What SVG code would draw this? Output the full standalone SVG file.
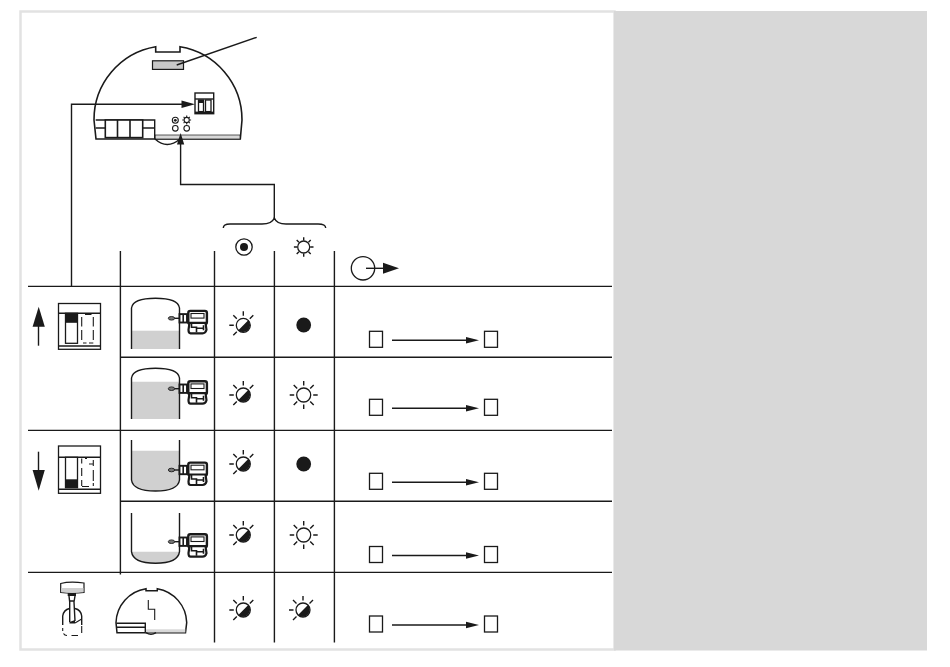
<svg xmlns="http://www.w3.org/2000/svg" width="950" height="667" viewBox="0 0 950 667">
<style>
.l{fill:none;stroke:#1a1a1a;stroke-width:1.4}
.t{fill:none;stroke:#1a1a1a;stroke-width:1.1}
.b{fill:#1a1a1a;stroke:none}
.w{fill:#fff;stroke:#1a1a1a;stroke-width:1.3}
.g{fill:#d0d0d0;stroke:none}
</style>
<defs>
<g id="sensor">
<ellipse cx="-8" cy="0" rx="3.2" ry="1.8" fill="#777" stroke="#1a1a1a" stroke-width="0.9"/>
<path class="l" d="M-5 0H0"/>
<rect x="0" y="-4.2" width="7.5" height="8.4" fill="#fff" stroke="#1a1a1a" stroke-width="1.9"/>
<path d="M3.7 -4V4" stroke="#1a1a1a" stroke-width="1.6"/>
<rect x="8.8" y="-7.4" width="18.6" height="13" rx="2" fill="#fff" stroke="#1a1a1a" stroke-width="2.4"/>
<rect x="11.5" y="-4.8" width="13" height="4.6" fill="#fff" stroke="#1a1a1a" stroke-width="1.1"/>
<path d="M10 4.5 H26 L27 11.5 Q26 15 23 15 H11 Q9 15 9 11.5 Z" fill="#fff" stroke="#1a1a1a" stroke-width="2.2"/>
<path d="M12 4V9H17V14M17 10H24M24 7V12" fill="none" stroke="#1a1a1a" stroke-width="1.6"/>
</g>
<g id="half">
<circle cx="0" cy="0" r="7" fill="#fff" stroke="#1a1a1a" stroke-width="1.3"/>
<path class="b" d="M5.2 -5.2A7.4 7.4 0 0 1 -5.2 5.2Z"/>
<path class="l" d="M0 -9.5V-14M-9.5 0H-14M-6.5 -6.5L-10 -10M6.5 -6.5L10 -10M-6.5 6.5L-10 10"/>
</g>
<g id="sun">
<circle cx="0" cy="0" r="7" class="w"/>
<path class="l" d="M0 -9.5V-14M0 9.5V14M-9.5 0H-14M9.5 0H14M-6.5 -6.5L-10 -10M6.5 -6.5L10 -10M-6.5 6.5L-10 10M6.5 6.5L10 10"/>
</g>
<g id="sun-small">
<circle cx="0" cy="0" r="6" class="w"/>
<path class="l" d="M0 -6.5V-9.8M0 6.5V9.8M-6.5 0H-9.8M6.5 0H9.8M-4.8 -4.8L-7 -7M4.8 -4.8L7 -7M-4.8 4.8L-7 7M4.8 4.8L7 7"/>
</g>
<g id="dot"><circle cx="0" cy="0" r="7.4" class="b"/></g>
<g id="flow">
<rect x="369.5" y="-9" width="13" height="16" class="w"/>
<rect x="484.5" y="-9" width="13" height="16" class="w"/>
<path class="l" d="M392 0H468"/>
<path class="b" d="M466 -3.2L479 0L466 3.2Z"/>
</g>
</defs>

<g id="page">
<rect x="20.5" y="11.5" width="594" height="638" fill="#fff" stroke="#e2e2e2" stroke-width="2.5"/>
<rect x="614" y="11" width="313" height="639.5" fill="#d8d8d8"/>
</g>

<g id="table-lines">
<path class="l" d="M28 286.4H612M120.4 357.3H612M28 430.4H612M120.4 501.3H612M28 572.4H612"/>
<path class="l" d="M120.4 251V574.5M214.5 251V642.5M274.4 251V642.5M334.4 251V642.5"/>
</g>

<g id="device">
<path d="M155.7 46.8V52H180V46.8A74 74 0 0 1 242 120L240.3 139H96L94 120A74 74 0 0 1 155.7 46.8Z" fill="#fff" stroke="#1a1a1a" stroke-width="1.6"/>
<rect x="155" y="135" width="85" height="4" fill="#d8d8d8" stroke="#1a1a1a" stroke-width="0.7"/>
<rect x="152.5" y="60.8" width="31" height="8.6" fill="#c8c8c8" stroke="#1a1a1a" stroke-width="1.2"/>
<path class="l" d="M95.7 120H154.7V139M95.7 128H105.3M142.7 128H154.7"/>
<rect x="105.3" y="120" width="37.4" height="17.6" fill="#fff" stroke="#1a1a1a" stroke-width="1.6"/>
<path d="M117.5 120V137.6M130 120V137.6" stroke="#1a1a1a" stroke-width="1.6" fill="none"/>
<path class="l" d="M155 139Q167 150 180 139"/>
<rect x="195" y="93" width="18.7" height="20.7" fill="#fff" stroke="#1a1a1a" stroke-width="1.4"/>
<path class="l" d="M195 99H213.7"/>
<rect x="198.5" y="100" width="5" height="11.6" class="w"/>
<rect x="198.5" y="100" width="5" height="3" class="b"/>
<rect x="205.5" y="100" width="5.5" height="11.6" class="w"/>
<path class="b" d="M195 111.6H213.7V113.7H195Z"/>
<circle cx="175.3" cy="120.3" r="3" class="t"/>
<circle cx="175.3" cy="120.3" r="1.4" class="b"/>
<circle cx="186.7" cy="120" r="2.6" class="t"/>
<path class="t" d="M186.7 115.6V117M186.7 123V124.4M182.3 120H183.7M189.7 120H191.1M183.6 116.9L184.6 117.9M189.8 116.9L188.8 117.9M183.6 123.1L184.6 122.1M189.8 123.1L188.8 122.1"/>
<circle cx="175.3" cy="128.3" r="2.8" class="t"/>
<circle cx="186.7" cy="128.3" r="2.8" class="t"/>
</g>

<g id="header-icons">
<circle cx="244" cy="247" r="8.2" class="w"/>
<circle cx="244" cy="247" r="4" class="b"/>
<use href="#sun-small" x="303.7" y="247"/>
<circle cx="363" cy="268.3" r="11.7" class="w"/>
<path class="l" d="M366 268.3H385"/>
<path class="b" d="M383 262.8L399 268.3L383 273.8Z"/>
</g>

<g id="switch-up">
<path class="b" d="M38.7 306.7L44.8 326.7H32.6Z"/>
<path class="l" d="M38.5 326V345.7"/>
<rect x="58.5" y="303.5" width="42" height="45.8" class="w"/>
<path class="l" d="M58.5 313.3H100.5M58.5 346H100.5"/>
<rect x="65.5" y="313.3" width="12" height="30" class="w"/>
<rect x="65.5" y="313.3" width="12" height="9.5" class="b"/>
<path class="t" d="M85 314.5H91.5M81.7 317V326.5M81.7 330V340M93.3 317V326.5M93.3 330V340M83 343H86.5M89 343H93.3"/>
</g>

<g id="switch-down">
<path class="l" d="M38.5 451.7V471"/>
<path class="b" d="M38.7 490.7L44.8 470H32.6Z"/>
<rect x="58.5" y="446" width="42" height="47.3" class="w"/>
<path class="l" d="M58.5 457.3H100.5M58.5 489.3H100.5"/>
<rect x="65.5" y="457.3" width="12" height="30.4" class="w"/>
<rect x="65.5" y="479.3" width="12" height="8.4" class="b"/>
<path class="t" d="M81.7 458.5V463.5M81.7 468V476M81.7 480V486M82 486.5H89M93.3 460V466M93.3 470V481M93.3 483V486M85 458.5H87M89 464H93.3"/>
</g>

<g id="tank-1">
<rect x="131.5" y="330.7" width="48" height="18.3" class="g"/>
<path class="l" d="M131.5 349V308Q133 298.3 155.5 298.3Q178 298.3 179.5 308V349"/>
<use href="#sensor" x="179.5" y="318.3"/>
</g>
<g id="tank-2">
<path class="g" d="M131.5 419V381.7H179.5V419Z"/>
<path class="l" d="M131.5 419V378Q133 368.3 155.5 368.3Q178 368.3 179.5 378V419"/>
<use href="#sensor" x="179.5" y="388.7"/>
</g>
<g id="tank-3">
<path class="g" d="M131.5 450.7H179.5V480Q178 491 155.5 491Q133 491 131.5 480Z"/>
<path class="l" d="M131.5 440V480Q133 491 155.5 491Q178 491 179.5 480V440"/>
<use href="#sensor" x="179.5" y="470"/>
</g>
<g id="tank-4">
<path class="g" d="M131.5 551.7H179.5Q178 563.3 155.5 563.3Q133 563.3 131.5 551.7Z"/>
<path class="l" d="M131.5 513V551.7Q133 563.3 155.5 563.3Q178 563.3 179.5 551.7V513"/>
<use href="#sensor" x="179.5" y="541.7"/>
</g>

<g id="tool">
<path d="M60.7 583.5Q70 581 84 583V592.5Q72 594 60.7 592.5Z" fill="#fff" stroke="#1a1a1a" stroke-width="1.2"/>
<path d="M61.3 588H83.4V592Q72 593.4 61.3 592Z" fill="#cfcfcf"/>
<path class="b" d="M67.7 593H76V596H67.7Z"/>
<path class="l" d="M69 596L69.7 602V622M75 596L74 602L75 621M69.7 601H74"/>
<path class="l" d="M62.7 625V616Q63.5 610 69.5 608.5M81.7 625V616Q81 610 75 608.5"/>
<path class="b" d="M69.5 622L75 620V623.5H69.5Z"/>
<path class="t" d="M75 623L81.7 619"/>
<path class="t" d="M62.7 628V631M63.5 633.5Q64.5 635.5 67 635.5M71.5 635.5H78M81.7 633V626"/>
</g>

<g id="device-mini">
<path d="M146 588.7V590.7H157.3V588.7A35.3 35.3 0 0 1 186.7 622.6L185.5 632.7H117L116 622.6A35.3 35.3 0 0 1 146 588.7Z" fill="#fff" stroke="#1a1a1a" stroke-width="1.5"/>
<rect x="145.3" y="629.3" width="40" height="3.2" fill="#d8d8d8"/>
<path class="l" d="M116.5 623.3H145.3V632.7M116.5 627.3H145.3"/>
<path class="l" d="M146 632.7Q151 636 156 632.7"/>
<path class="t" d="M148.3 600V609.3H154.7V620"/>
</g>

<g id="led-row-1"><use href="#half" x="243.3" y="325.3"/><use href="#dot" x="303.7" y="325"/><use href="#flow" y="340.3"/></g>
<g id="led-row-2"><use href="#half" x="243.3" y="395"/><use href="#sun" x="303.7" y="395"/><use href="#flow" y="408.3"/></g>
<g id="led-row-3"><use href="#half" x="243.3" y="464"/><use href="#dot" x="303.7" y="464"/><use href="#flow" y="482.3"/></g>
<g id="led-row-4"><use href="#half" x="243.3" y="535"/><use href="#sun" x="303.7" y="535"/><use href="#flow" y="555.5"/></g>
<g id="led-row-5"><use href="#half" x="243.3" y="610"/><use href="#half" x="303" y="610"/><use href="#flow" y="625"/></g>

<g id="connectors">
<path class="l" d="M176.7 65L256.7 37.3"/>
<path class="l" d="M71.5 286V104.3H185"/>
<path class="b" d="M181.5 100.6L195 104.3L181.5 108Z"/>
<path class="l" d="M274.3 218V184.5H180.6V140"/>
<path class="b" d="M177 144.5L180.6 133L184.2 144.5Z"/>
<path class="l" d="M223.3 228Q223.3 224 230 224H262Q272 224 274.3 218Q276.6 224 286 224H318Q325.7 224 325.7 228"/>
</g>
</svg>
